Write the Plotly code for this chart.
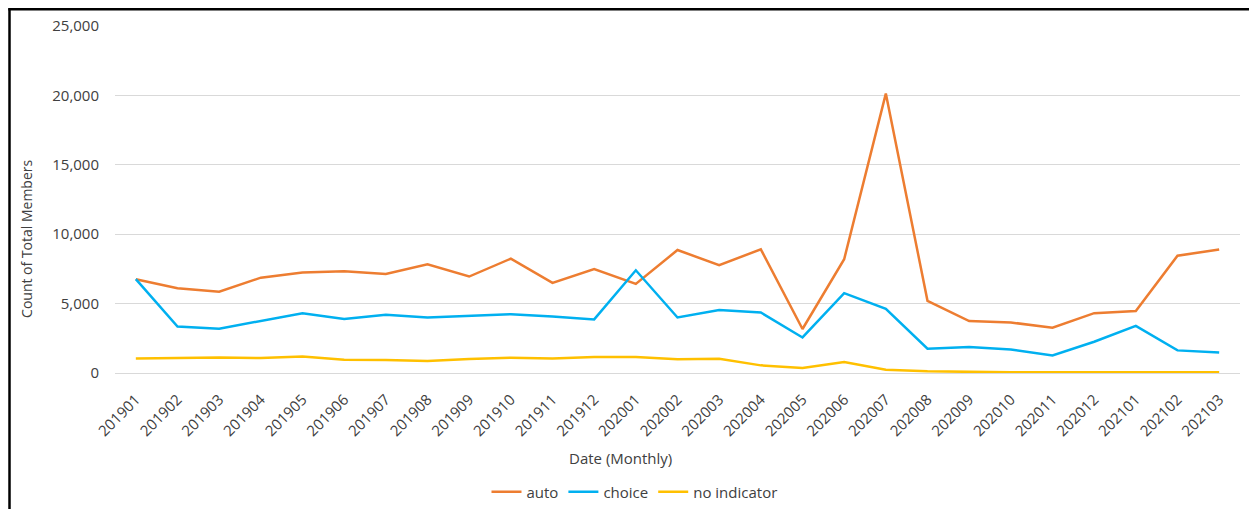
import plotly.graph_objects as go

months = ["201901", "201902", "201903", "201904", "201905", "201906", "201907", "201908",
          "201909", "201910", "201911", "201912", "202001", "202002", "202003", "202004",
          "202005", "202006", "202007", "202008", "202009", "202010", "202011", "202012",
          "202101", "202102", "202103"]
auto = [6760, 6110, 5850, 6870, 7240, 7330, 7140, 7840, 6950, 8240, 6490, 7480, 6420,
        8860, 7770, 8910, 3170, 8200, 20130, 5200, 3740, 3640, 3260, 4310, 4460, 8450, 8890]
choice = [6760, 3350, 3190, 3760, 4310, 3900, 4190, 4000, 4120, 4240, 4070, 3860, 7400,
          4000, 4530, 4360, 2560, 5750, 4620, 1750, 1870, 1700, 1270, 2250, 3400, 1630, 1480]
no_indicator = [1050, 1080, 1120, 1080, 1190, 960, 940, 860, 1010, 1100, 1050, 1150, 1150,
                990, 1030, 550, 360, 790, 240, 120, 70, 50, 60, 60, 40, 50, 50]
y_ticks = [0, 5000, 10000, 15000, 20000, 25000]

W, H = 1249, 509
L, R, T, B = 115, 1240, 25.7, 373.3

def px_x(x):
    return (x - L) / (R - L)

def px_y(y):
    return (B - y) / (B - T)

txt = "#404040"
font = "Open Sans"

fig = go.Figure()
for name, vals, col in [("auto", auto, "#ED7D31"),
                        ("choice", choice, "#00B0F0"),
                        ("no indicator", no_indicator, "#FFC000")]:
    fig.add_trace(go.Scatter(x=months, y=vals, name=name, mode="lines",
                             line=dict(color=col, width=2.5)))

fig.update_layout(
    width=W, height=H,
    margin=dict(l=L, r=W - R, t=T, b=H - B),
    paper_bgcolor="white", plot_bgcolor="white",
    font=dict(family=font, size=15, color=txt),
    showlegend=True,
    legend=dict(orientation="h", xref="container", x=0.508, xanchor="center",
                yref="container", y=1 - 492 / H, yanchor="middle",
                font=dict(size=15, color=txt), itemwidth=30,
                tracegroupgap=0, traceorder="normal"),
    xaxis=dict(type="category", range=[-0.5, len(months) - 0.5], tickangle=-45,
               showgrid=False, showline=False, zeroline=False, ticks="",
               ticklabelstandoff=14, tickfont=dict(size=15, color=txt)),
    yaxis=dict(range=[0, 25000], tickvals=y_ticks, tickformat=",d",
               showgrid=True, gridcolor="#D9D9D9", gridwidth=1,
               zeroline=True, zerolinecolor="#D9D9D9", zerolinewidth=1,
               showline=False, ticks="", ticklabelstandoff=15,
               tickfont=dict(size=15, color=txt)),
    annotations=[
        dict(text="Count of Total Members", xref="paper", yref="paper",
             x=px_x(27), y=px_y(239), textangle=-90, showarrow=False,
             xanchor="center", yanchor="middle", font=dict(size=14, color=txt)),
        dict(text="Date (Monthly)", xref="paper", yref="paper",
             x=px_x(620), y=px_y(458), showarrow=False,
             xanchor="center", yanchor="middle", font=dict(size=15, color=txt)),
    ],
    shapes=[
        dict(type="line", xref="paper", yref="paper", x0=px_x(9.5), x1=px_x(9.5),
             y0=px_y(8), y1=px_y(H + 2), line=dict(color="black", width=2.5)),
        dict(type="line", xref="paper", yref="paper", x0=px_x(8.3), x1=px_x(W + 2),
             y0=px_y(9), y1=px_y(9), line=dict(color="black", width=2.5)),
    ],
)

fig.write_html("out.html")
